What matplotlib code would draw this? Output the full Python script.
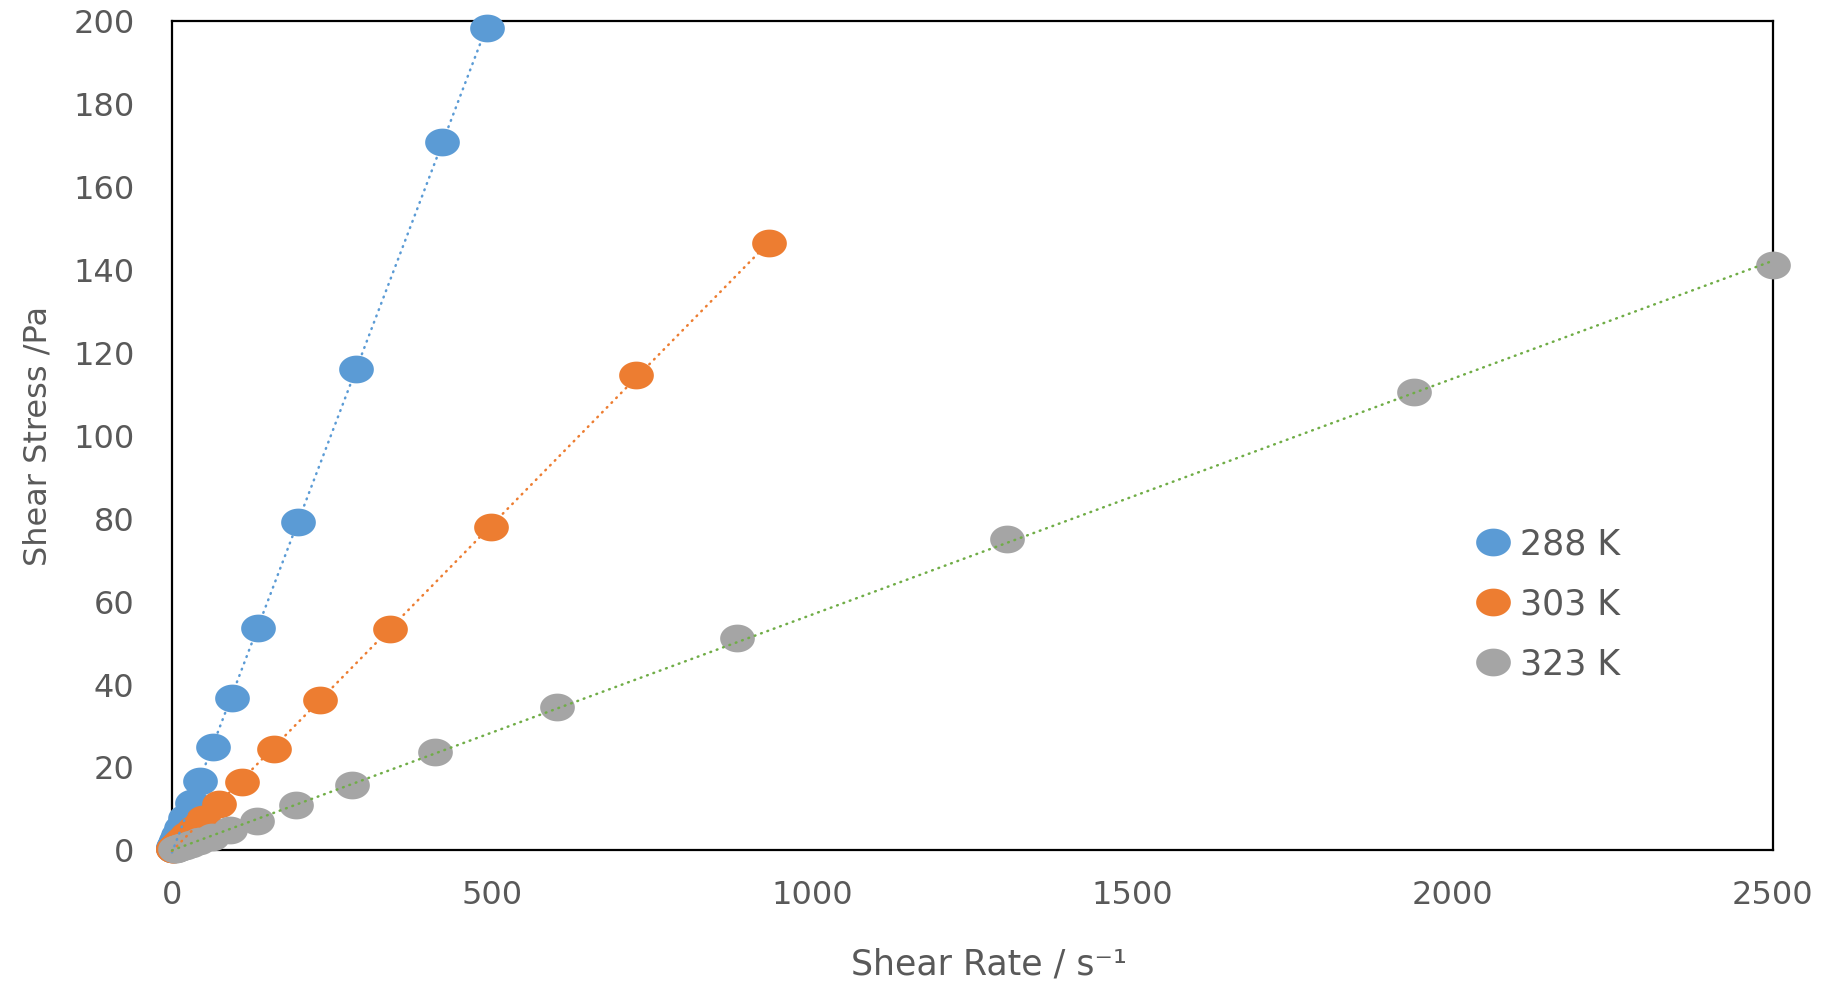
import matplotlib
matplotlib.use("Agg")
import matplotlib.pyplot as plt
import numpy as np
from matplotlib.path import Path

# shear rate (1/s) and shear stress (Pa) for each temperature
rate_288 = [492, 421, 287, 196, 134, 93, 64, 44, 31, 21, 14.5, 10, 7, 4.8, 3.3, 2.3, 1.6, 1.1]
stress_288 = [198.3, 170.8, 116.1, 79.1, 53.6, 36.7, 25.0, 16.8, 11.5, 7.8, 5.3, 3.6, 2.5, 1.7, 1.2, 0.8, 0.55, 0.4]

rate_303 = [932, 725, 498, 340, 231, 160, 109, 73, 49, 34, 23, 16, 11, 7.5, 5, 3.4, 2.3, 1.6]
stress_303 = [146.4, 114.7, 78.0, 53.3, 36.2, 24.4, 16.5, 11.2, 7.6, 5.2, 3.6, 2.5, 1.7, 1.2, 0.8, 0.55, 0.38, 0.26]

rate_323 = [2500, 1939, 1304, 883, 601, 411, 281, 193, 133, 91, 62, 42, 29, 20, 13.5, 9.2, 6.3, 4.3]
stress_323 = [141.1, 110.5, 75.2, 51.1, 34.5, 23.7, 15.8, 10.9, 7.1, 4.9, 3.3, 2.3, 1.6, 1.1, 0.75, 0.5, 0.35, 0.24]

labels = ["288 K", "303 K", "323 K"]
x_ticks = [0, 500, 1000, 1500, 2000, 2500]
y_ticks = list(range(0, 201, 20))

MARKER_COLORS = ["#5B9BD5", "#ED7D31", "#A5A5A5"]
TREND_COLORS = ["#5B9BD5", "#ED7D31", "#70AD47"]
TEXT = "#595959"

plt.rcParams["font.family"] = ["DejaVu Sans"]

# slightly wide ellipse marker (Excel look)
t = np.linspace(0, 2 * np.pi, 60)
ellipse = Path(np.column_stack([np.cos(t), 0.8 * np.sin(t)]), closed=True)

fig = plt.figure(figsize=(18.24, 9.86), dpi=100)
ax = fig.add_axes([0.0943, 0.1375, 0.8777, 0.8413])

series = [(rate_288, stress_288), (rate_303, stress_303), (rate_323, stress_323)]
for (x, y), lab, mc in zip(series, labels, MARKER_COLORS):
    ax.plot(x, y, linestyle="none", marker=ellipse, markersize=25,
            color=mc, markeredgewidth=0, label=lab, clip_on=False, zorder=3)

for (x, y), tc in zip(series, TREND_COLORS):
    k, b = np.polyfit(x, y, 1)
    xs = np.array([0, max(x)])
    ax.plot(xs, k * xs + b, color=tc, linewidth=1.8,
            linestyle=(0, (0.3, 2.4)), dash_capstyle="round",
            clip_on=False, zorder=4)

ax.set_xlim(0, 2500)
ax.set_ylim(0, 200)
ax.set_xticks(x_ticks)
ax.set_yticks(y_ticks)
ax.tick_params(length=0, labelsize=23, labelcolor=TEXT)
ax.tick_params(axis="y", pad=27)
ax.tick_params(axis="x", pad=21)
for s in ax.spines.values():
    s.set_linewidth(1.6)
    s.set_color("black")

ax.set_ylabel("Shear Stress /Pa", fontsize=23, color=TEXT, va="center")
ax.yaxis.set_label_coords(-0.0835, 0.5)
ax.set_xlabel("Shear Rate / s\u207b\u00b9", fontsize=25, color=TEXT, va="center")
ax.xaxis.set_label_coords(0.51, -0.1375)

leg = ax.legend(loc="center left", bbox_to_anchor=(0.815, 0.297), frameon=False,
                fontsize=25, labelcolor=TEXT, handlelength=0.95,
                handletextpad=0.3, labelspacing=0.75, borderaxespad=0,
                borderpad=0)

fig.savefig("out.png", dpi=100, facecolor="white")
